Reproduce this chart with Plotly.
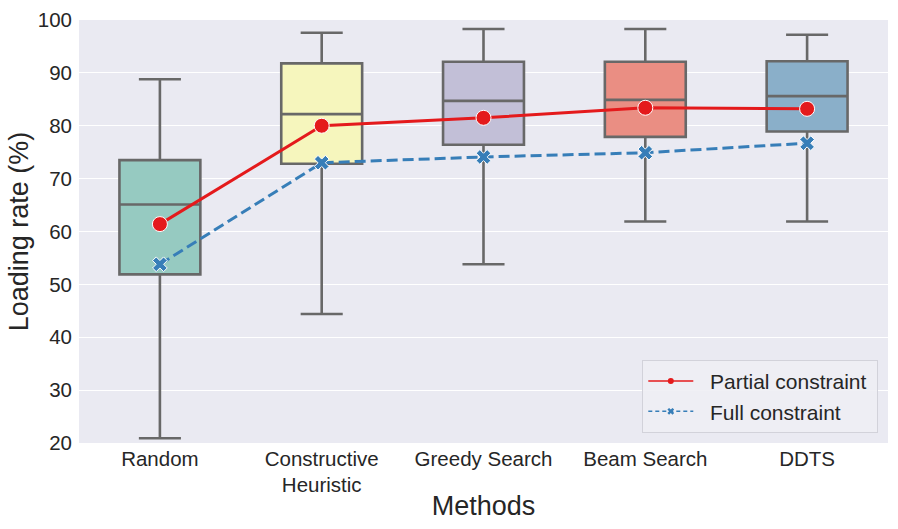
import plotly.graph_objects as go

methods = ["Random", "Constructive Heuristic", "Greedy Search", "Beam Search", "DDTS"]
tick_text = ["Random", "Constructive<br>Heuristic", "Greedy Search", "Beam Search", "DDTS"]

whisker_low = [20.9, 44.4, 53.8, 61.9, 61.9]
q1 = [51.9, 72.8, 76.4, 77.9, 78.9]
median = [65.1, 82.2, 84.7, 84.9, 85.6]
q3 = [73.5, 91.8, 92.1, 92.1, 92.2]
whisker_high = [88.8, 97.6, 98.3, 98.3, 97.2]

partial_mean = [61.4, 80.0, 81.5, 83.4, 83.2]
full_mean = [53.8, 73.0, 74.1, 74.9, 76.7]

series_names = ["Partial constraint", "Full constraint"]

box_colors = ["#96cac1", "#f6f6bd", "#c2bfd7", "#ea8e83", "#8aafc9"]

fig = go.Figure()

for i, m in enumerate(methods):
    fig.add_trace(go.Box(
        x=[m],
        q1=[q1[i]], median=[median[i]], q3=[q3[i]],
        lowerfence=[whisker_low[i]], upperfence=[whisker_high[i]],
        fillcolor=box_colors[i],
        line=dict(color="#686868", width=2.6),
        width=0.5,
        whiskerwidth=0.52,
        showlegend=False,
        hoverinfo="skip",
    ))

fig.add_trace(go.Scatter(
    x=methods, y=partial_mean, mode="lines+markers",
    line=dict(color="#e41a1c", width=3),
    marker=dict(symbol="circle", size=15, color="#e41a1c", line=dict(color="white", width=1)),
    showlegend=False,
))
fig.add_trace(go.Scatter(
    x=methods, y=full_mean, mode="lines+markers",
    line=dict(color="#377eb8", width=3, dash="11px,5px"),
    marker=dict(symbol="x", size=13, color="#377eb8", line=dict(color="white", width=1)),
    showlegend=False,
))

# legend entries
nb = "\u00a0"
fig.add_trace(go.Scatter(
    x=[None], y=[None], mode="lines+markers", name=nb * 2 + series_names[0] + nb,
    line=dict(color="#e41a1c", width=1.5),
    marker=dict(symbol="circle", size=6, color="#e41a1c"),
))
fig.add_trace(go.Scatter(
    x=[None], y=[None], mode="lines+markers", name=nb * 2 + series_names[1] + nb,
    line=dict(color="#377eb8", width=1.5, dash="4px,3px"),
    marker=dict(symbol="x", size=6, color="#377eb8"),
))

fig.update_layout(
    width=898, height=529,
    margin=dict(l=79, r=10, t=20, b=86),
    paper_bgcolor="white",
    plot_bgcolor="#eaeaf2",
    font=dict(family="Liberation Sans, Arial, sans-serif", color="#262626", size=20),
    boxmode="overlay",
    legend=dict(
        x=0.988, y=0.024, xanchor="right", yanchor="bottom",
        bgcolor="rgba(238,238,244,0.9)", bordercolor="#d2d2da", borderwidth=1,
        font=dict(size=21),
        itemwidth=45,
        tracegroupgap=0,
    ),
    xaxis=dict(
        type="category",
        categoryorder="array", categoryarray=methods,
        tickmode="array", tickvals=methods, ticktext=tick_text,
        range=[-0.5, 4.5],
        showgrid=False, zeroline=False, showline=False,
        ticks="", ticklabelstandoff=1,
        tickfont=dict(size=20.5),
        automargin=False,
        title=dict(text="Methods", font=dict(size=27), standoff=0),
    ),
    yaxis=dict(
        range=[20, 100],
        tickmode="array", tickvals=[20, 30, 40, 50, 60, 70, 80, 90, 100],
        showgrid=True, gridcolor="white", gridwidth=1.3,
        zeroline=False, showline=False, ticks="",
        ticklabelstandoff=6,
        tickfont=dict(size=20.5),
        automargin=False,
        title=dict(text="Loading rate (%)", font=dict(size=27), standoff=1),
    ),
)

fig.write_html(
    "out.html",
    config={"displayModeBar": False},
    post_script="document.body.style.margin='0px';",
)
